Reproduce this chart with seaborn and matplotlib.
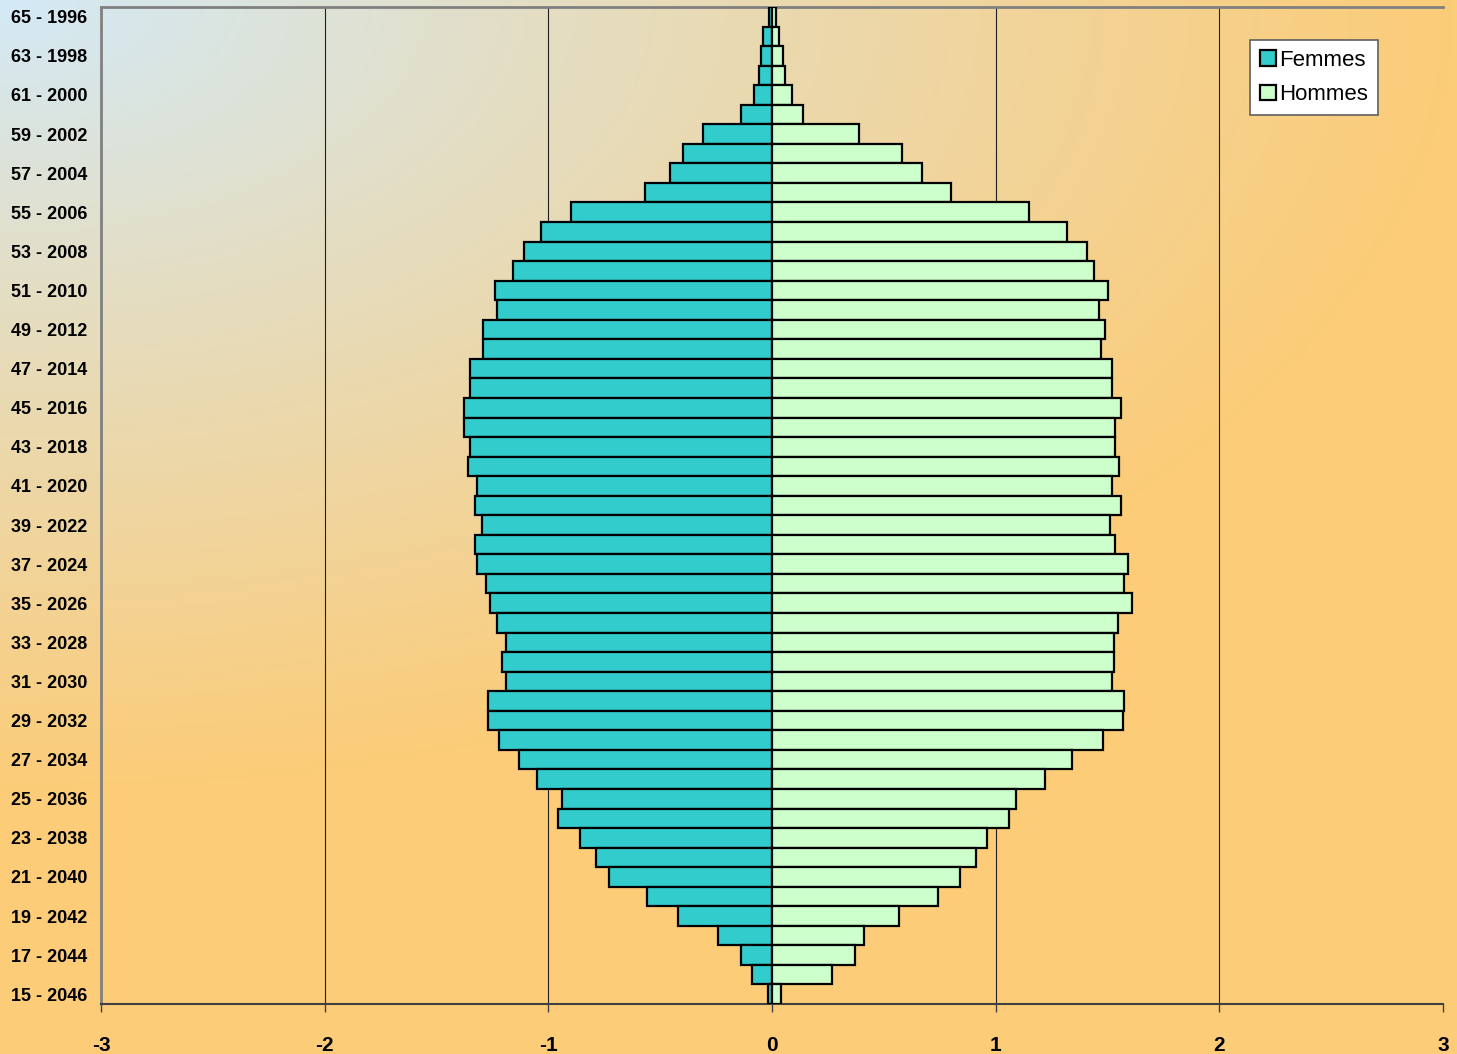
import numpy as np
import pandas as pd
import matplotlib
matplotlib.use("Agg")
import matplotlib.pyplot as plt
import seaborn as sns
from matplotlib.colors import to_rgb

# ---------------- data ----------------
ages = list(range(65, 14, -1))  # 65 .. 15 (top to bottom)
years = [2061 - a for a in ages]
femmes = [0.015, 0.04, 0.05, 0.06, 0.08, 0.14, 0.31, 0.40, 0.455, 0.57,
          0.90, 1.035, 1.11, 1.16, 1.24, 1.23, 1.29, 1.29, 1.35, 1.35,
          1.375, 1.375, 1.35, 1.36, 1.32, 1.33, 1.295, 1.33, 1.32, 1.28,
          1.26, 1.23, 1.19, 1.205, 1.19, 1.27, 1.27, 1.22, 1.13, 1.05,
          0.94, 0.955, 0.86, 0.785, 0.73, 0.56, 0.42, 0.24, 0.14, 0.09,
          0.02]
hommes = [0.02, 0.03, 0.05, 0.06, 0.09, 0.14, 0.39, 0.58, 0.67, 0.80,
          1.15, 1.32, 1.41, 1.44, 1.50, 1.46, 1.49, 1.47, 1.52, 1.52,
          1.56, 1.535, 1.535, 1.55, 1.52, 1.56, 1.51, 1.535, 1.59, 1.575,
          1.61, 1.545, 1.53, 1.53, 1.52, 1.575, 1.57, 1.48, 1.34, 1.22,
          1.09, 1.06, 0.96, 0.91, 0.84, 0.74, 0.57, 0.41, 0.37, 0.27,
          0.04]
series = ["Femmes", "Hommes"]
colors = {"Femmes": "#33CCCC", "Hommes": "#CCFFCC"}
xticks = [-3, -2, -1, 0, 1, 2, 3]

labels = [f"{a} - {y}" for a, y in zip(ages, years)]
df = pd.DataFrame({
    "label": labels * 2,
    "value": [-v for v in femmes] + list(hommes),
    "sexe": ["Femmes"] * len(ages) + ["Hommes"] * len(ages),
})

# ---------------- figure ----------------
W, H = 1457, 1054
fig = plt.figure(figsize=(W / 100, H / 100), dpi=100)

# gradient background
bg = fig.add_axes([0, 0, 1, 1], zorder=-10)
bg.set_axis_off()
xx, yy = np.meshgrid(np.linspace(0, 1, 400), np.linspace(0, 1, 300))
t = np.clip(np.sqrt((xx / 1.0) ** 2 + (yy / 0.75) ** 2), 0, 1) ** 0.9
c0 = np.array(to_rgb("#D3EAF8"))
c1 = np.array(to_rgb("#FCCC78"))
img = c0[None, None, :] * (1 - t[..., None]) + c1[None, None, :] * t[..., None]
bg.imshow(img, aspect="auto", extent=[0, 1, 0, 1], origin="upper")

ax = fig.add_axes([101 / W, 50 / H, (1443 - 101) / W, (1004 - 7) / H])
ax.patch.set_alpha(0)

sns.barplot(data=df, x="value", y="label", hue="sexe", order=labels,
            hue_order=series, palette=colors, dodge=False, width=1.0,
            saturation=1, edgecolor="black", linewidth=1.6, orient="h",
            ax=ax, zorder=3)

ax.set_xlim(-3, 3)
ax.set_ylim(len(ages) - 0.5, -0.5)
ax.set_xticks(xticks)
ax.set_xticklabels([str(v) for v in xticks], fontsize=15, fontweight="bold",
                   family="Liberation Sans")
pos = [i for i, a in enumerate(ages) if a % 2 == 1]
ax.set_yticks(pos)
ax.set_yticklabels([labels[i] for i in pos], fontsize=13, fontweight="bold",
                   family="Liberation Sans")
ax.tick_params(axis="y", length=0, pad=10)
ax.tick_params(axis="x", length=6, width=1, color="#404040", pad=17, direction="out")
ax.set_xlabel("")
ax.set_ylabel("")

for v in [-2, -1, 1, 2]:
    ax.axvline(v, color="#202020", lw=0.8, zorder=1)

ax.spines["right"].set_visible(False)
ax.spines["top"].set_color("#808080")
ax.spines["top"].set_linewidth(2)
ax.spines["left"].set_color("#808080")
ax.spines["left"].set_linewidth(2)
ax.spines["bottom"].set_color("#404040")
ax.spines["bottom"].set_linewidth(1.5)

handles, lab = ax.get_legend_handles_labels()
leg = ax.legend(handles, lab, loc="upper right",
                bbox_to_anchor=(1378 / W, 1 - 40 / H), bbox_transform=fig.transFigure,
                borderaxespad=0, frameon=True, fancybox=False, framealpha=1,
                edgecolor="#606060", facecolor="white",
                prop={"family": "Liberation Sans", "size": 16},
                handlelength=0.7, handleheight=0.7, handletextpad=0.15,
                labelspacing=0.6, borderpad=0.45)
leg.get_frame().set_linewidth(1.2)

fig.savefig("out.png", dpi=100)
